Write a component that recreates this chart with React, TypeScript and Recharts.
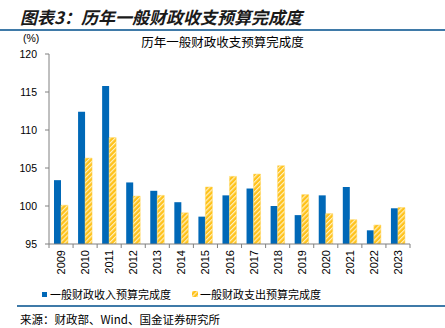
import React from "react"
import { BarChart, Bar, XAxis, YAxis } from "recharts"

const years = ["2009", "2010", "2011", "2012", "2013", "2014", "2015", "2016", "2017", "2018", "2019", "2020", "2021", "2022", "2023"]
const revenueRate = [103.4, 112.4, 115.8, 103.1, 102.0, 100.5, 98.6, 101.4, 102.3, 100.0, 98.8, 101.4, 102.5, 96.8, 99.7]
const spendRate = [100.1, 106.3, 109.0, 101.3, 101.4, 99.1, 102.5, 103.9, 104.2, 105.3, 101.5, 99.0, 98.2, 97.5, 99.8]
const yTicks = [95, 100, 105, 110, 115, 120]

const BLUE = "#0068b7"
const YELLOW = "#ffc21a"
const RULE = "#3f7aa8"
const CJK = '"Noto Sans CJK SC", "Liberation Sans", sans-serif'

const PLOT_LEFT = 49
const PLOT_RIGHT = 410
const BAND = (PLOT_RIGHT - PLOT_LEFT) / years.length

const chartData = years.map((year, i) => ({
  year,
  revenue: revenueRate[i],
  spend: spendRate[i],
}))

function YearTick(props: any) {
  const { x, y, payload, index } = props
  const left = x - BAND / 2
  const right = x + BAND / 2
  return (
    <g>
      <line x1={left} x2={left} y1={y} y2={y + 4} stroke="#808080" />
      {index === years.length - 1 && <line x1={right} x2={right} y1={y} y2={y + 4} stroke="#808080" />}
      <text
        transform={`translate(${x},${y + 6}) rotate(-90)`}
        textAnchor="end"
        dominantBaseline="central"
        fontSize={11}
        fontFamily="Liberation Sans, Arial, sans-serif"
        fill="#000"
      >
        {payload.value}
      </text>
    </g>
  )
}

export default function App() {
  return (
    <div style={{ position: "absolute", left: 0, top: 0, width: 445, height: 328, background: "#fff", overflow: "hidden" }}>
      <svg width={0} height={0} style={{ position: "absolute" }}>
        <defs>
          <pattern id="hatch" width={3.5} height={3.5} patternUnits="userSpaceOnUse" patternTransform="rotate(45)">
            <rect width={3.5} height={3.5} fill={YELLOW} />
            <line x1={0.6} y1={0} x2={0.6} y2={3.5} stroke="#fff4cc" strokeWidth={1.1} />
          </pattern>
        </defs>
      </svg>

      <div style={{ position: "absolute", left: 20, top: 4, fontFamily: CJK, fontSize: 17, fontWeight: 700, fontStyle: "italic", color: "#1a1a1a", whiteSpace: "nowrap" }}>
        图表3：历年一般财政收支预算完成度
      </div>
      <div style={{ position: "absolute", left: 0, top: 29, width: 445, height: 2, background: RULE }} />

      <div style={{ position: "absolute", left: 23, top: 32, fontFamily: "Liberation Sans, Arial, sans-serif", fontSize: 10.5, color: "#000" }}>(%)</div>
      <div style={{ position: "absolute", left: 0, width: 445, textAlign: "center", top: 32, fontFamily: CJK, fontSize: 12.5, color: "#000", whiteSpace: "nowrap", paddingLeft: 0 }}>
        历年一般财政收支预算完成度
      </div>

      <BarChart
        width={445}
        height={328}
        data={chartData}
        margin={{ top: 54, right: 445 - PLOT_RIGHT, left: 9, bottom: 44 }}
        barSize={7}
        barGap={0}
        style={{ position: "absolute", left: 0, top: 0 }}
      >
        <XAxis
          dataKey="year"
          height={40}
          axisLine={{ stroke: "#808080" }}
          tickLine={false}
          tickSize={0}
          tickMargin={0}
          interval={0}
          tick={<YearTick />}
        />
        <YAxis
          width={40}
          domain={[95, 120]}
          ticks={yTicks}
          allowDataOverflow
          axisLine={{ stroke: "#808080" }}
          tickLine={{ stroke: "#808080" }}
          tickSize={4}
          tickMargin={8}
          tick={{ fontSize: 10.5, fill: "#000", fontFamily: "Liberation Sans, Arial, sans-serif" }}
        />
        <Bar dataKey="revenue" fill={BLUE} isAnimationActive={false} />
        <Bar dataKey="spend" fill="url(#hatch)" stroke="#ffd75e" strokeWidth={0.5} isAnimationActive={false} />
      </BarChart>

      <div style={{ position: "absolute", left: 42, top: 286, display: "flex", alignItems: "center", fontFamily: CJK, fontSize: 11, color: "#000", whiteSpace: "nowrap" }}>
        <span style={{ display: "inline-block", width: 5, height: 5, background: BLUE, marginRight: 3 }} />
        一般财政收入预算完成度
      </div>
      <div style={{ position: "absolute", left: 192, top: 286, display: "flex", alignItems: "center", fontFamily: CJK, fontSize: 11, color: "#000", whiteSpace: "nowrap" }}>
        <svg width={6} height={6} style={{ marginRight: 2 }}>
          <rect width={6} height={6} fill="url(#hatch)" />
        </svg>
        一般财政支出预算完成度
      </div>

      <div style={{ position: "absolute", left: 17, top: 305, width: 428, height: 1.5, background: RULE }} />
      <div style={{ position: "absolute", left: 20, top: 311, fontFamily: CJK, fontSize: 11.5, color: "#000", whiteSpace: "nowrap" }}>
        来源：财政部、Wind、国金证券研究所
      </div>
    </div>
  )
}
